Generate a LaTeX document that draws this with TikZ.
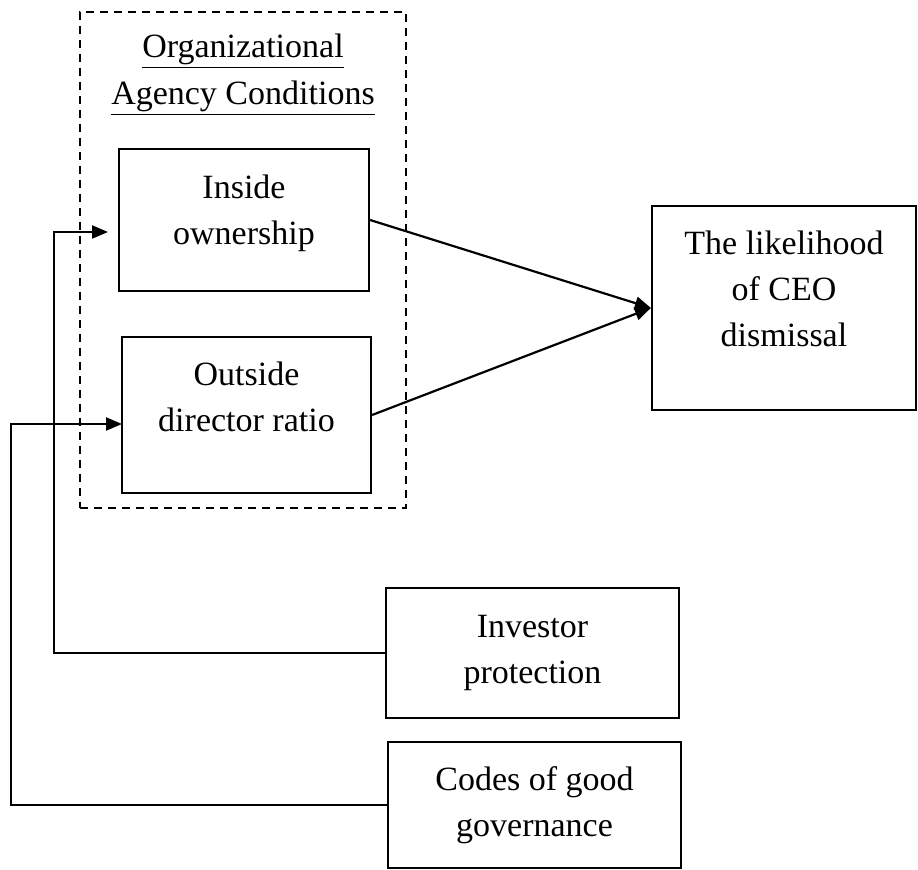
\documentclass[tikz,border=0pt]{standalone}
\usepackage{fontspec}
\setmainfont{Liberation Serif}
\usepackage{tikz}
\usetikzlibrary{arrows.meta,positioning}

\begin{document}
\begin{tikzpicture}[
    x=0.5pt, y=-0.5pt,
    box/.style={rectangle, draw=black, line width=1.1pt, align=center, font=\fontsize{17}{23}\selectfont},
    boxtext/.style={align=center, font=\fontsize{17}{23}\selectfont, inner sep=0pt},
    groupbox/.style={rectangle, draw=black, line width=0.9pt, dash pattern=on 4pt off 3pt},
    title/.style={align=center, font=\fontsize{17}{23.5}\selectfont},
    arrow/.style={-{Triangle[length=8pt, width=6.5pt]}, line width=1.1pt, draw=black}
]
    \useasboundingbox (0,0) rectangle (918,870);

    % agency conditions group
    \node [groupbox, minimum width=163pt, minimum height=248pt] (agency) at (243,260) {};
    \node [title] (agencytitle) at (243,75) {\underline{Organizational}\\\underline{Agency Conditions}};
    \node [box, minimum width=125pt, minimum height=71pt,
        label={[boxtext, yshift=3.5pt]center:Inside\\ownership}] (inside) at (244,220) {};
    \node [box, minimum width=124.5pt, minimum height=78pt,
        label={[boxtext, yshift=9pt]center:Outside\\director ratio}] (outside) at (246.5,415) {};

    % outcome
    \node [box, minimum width=132pt, minimum height=102pt,
        label={[boxtext, yshift=9.5pt]center:The likelihood\\of CEO\\dismissal}] (likely) at (784,308) {};

    % country level conditions
    \node [box, minimum width=146.5pt, minimum height=65pt] (investor) at (532.5,653) {Investor\\protection};
    \node [box, minimum width=146.5pt, minimum height=63pt] (codes) at (534.5,805) {Codes of good\\governance};

    \coordinate (insidein) at (108,232);
    \coordinate (outsidein) at (122,424);

    \draw [arrow] (inside.east) -- (likely.west);
    \draw [arrow] (outside.east) -- (likely.west);
    \draw [arrow] (investor.west) -- ++(-331,0) |- (insidein);
    \draw [arrow] (codes.west) -- ++(-376,0) |- (outsidein);
\end{tikzpicture}
\end{document}
